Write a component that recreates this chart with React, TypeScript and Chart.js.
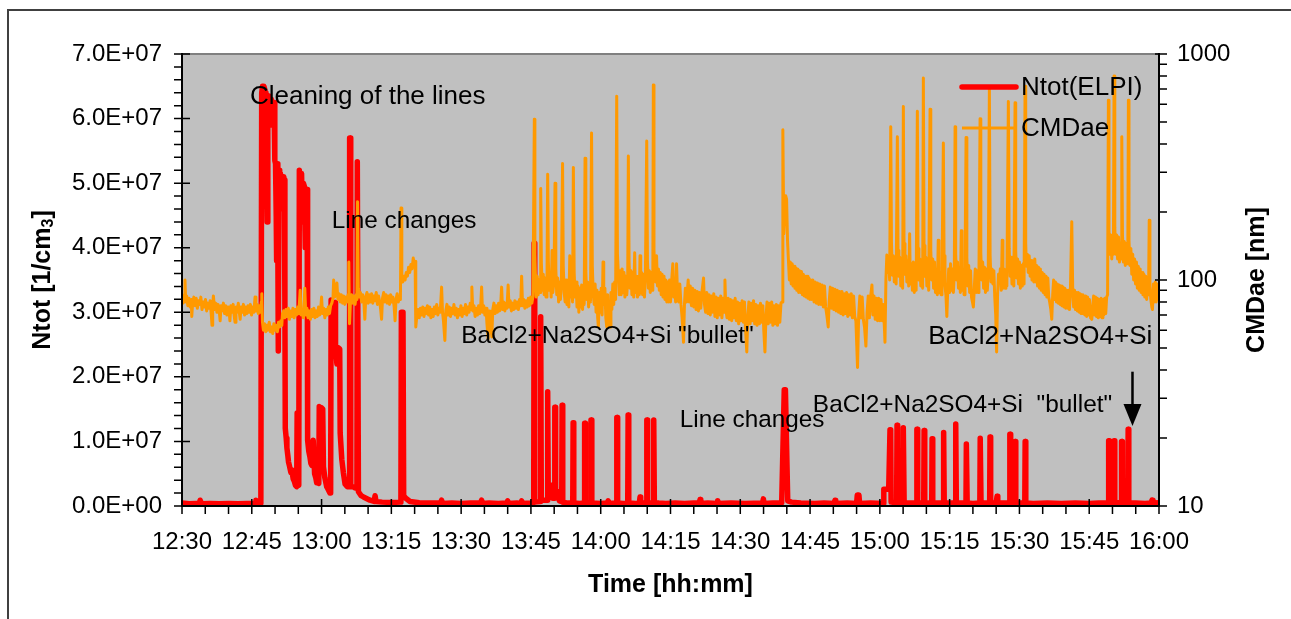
import { useEffect, useRef } from 'react';
import { Chart, registerables } from 'chart.js';

Chart.register(...registerables);

const FONT = '"Liberation Sans", Arial, Helvetica, sans-serif';

// Time axis: minutes after 12:30
const timeTickValues = [0, 15, 30, 45, 60, 75, 90, 105, 120, 135, 150, 165, 180, 195, 210];
const timeLabels = ['12:30', '12:45', '13:00', '13:15', '13:30', '13:45', '14:00', '14:15', '14:30', '14:45', '15:00', '15:15', '15:30', '15:45', '16:00'];

const ntotTickValues = [0, 1e7, 2e7, 3e7, 4e7, 5e7, 6e7, 7e7];
const ntotTickLabels = ['0.0E+00', '1.0E+07', '2.0E+07', '3.0E+07', '4.0E+07', '5.0E+07', '6.0E+07', '7.0E+07'];

const cmdTickValues = [10, 100, 1000];
const cmdTickLabels = ['10', '100', '1000'];
const cmdMinorTicks = [20, 30, 40, 50, 60, 70, 80, 90, 200, 300, 400, 500, 600, 700, 800, 900];

const xTitle = 'Time [hh:mm]';
const yLeftTitle = ['Ntot [1/cm', '3', ']'];
const yRightTitle = 'CMDae [nm]';

// Ntot(ELPI) total number concentration, [minute, 1/cm3]
const ntotSeries: [number, number][] = [
  [0, 0.45e6], [1.5, 0.35e6], [3.0, 0.4e6], [3.7, 0.4e6], [3.9, 0.9e6], [4.2, 0.35e6], [6.0, 0.4e6], [8.0, 0.35e6],
  [10.0, 0.4e6], [12.0, 0.35e6], [14.0, 0.4e6], [15.7, 0.4e6], [15.9, 0.9e6], [16.2, 0.35e6], [16.95, 0.4e6],
  [17.13, 64e6], [17.3, 65e6], [17.45, 58e6], [17.6, 65e6], [17.8, 64.5e6], [17.95, 60e6], [18.05, 64e6], [18.2, 50e6],
  [18.3, 44e6], [18.45, 58e6], [18.55, 63.5e6], [18.7, 61e6], [18.8, 63e6], [19.0, 59e6], [19.2, 63e6], [19.4, 60e6],
  [19.6, 62.5e6], [19.78, 62.5e6], [19.95, 53.5e6], [20.1, 53e6], [20.25, 45e6], [20.34, 38e6], [20.5, 53e6], [20.6, 40e6],
  [20.7, 24e6], [20.85, 52e6], [21.0, 46e6], [21.15, 51.5e6], [21.35, 48e6], [21.5, 51e6], [21.7, 47e6], [21.85, 51e6],
  [22.0, 50.5e6], [22.12, 30e6], [22.2, 12e6], [22.4, 10.5e6], [22.55, 9e6], [22.75, 7.8e6], [22.9, 6.8e6], [23.1, 6.2e6],
  [23.4, 5.2e6], [23.6, 5.6e6], [23.9, 4.2e6], [24.15, 3.8e6], [24.4, 3.2e6], [24.65, 3e6], [24.75, 14.4e6], [24.9, 3.5e6],
  [25.1, 3.2e6], [25.22, 52e6], [25.5, 49e6], [25.7, 51.5e6], [25.9, 44e6], [26.1, 50e6], [26.3, 49.5e6], [26.5, 40e6],
  [26.7, 49e6], [26.9, 49e6], [27.0, 10.2e6], [27.25, 8.5e6], [27.5, 7.6e6], [27.7, 6.6e6], [27.9, 6.3e6], [28.2, 10.2e6],
  [28.5, 5e6], [28.75, 4.4e6], [28.95, 3.6e6], [29.2, 3.8e6], [29.4, 3.5e6], [29.5, 15.4e6], [29.8, 13e6], [30.0, 15.2e6],
  [30.25, 15e6], [30.4, 6.1e6], [30.7, 4.4e6], [31.1, 3e6], [31.4, 2.6e6], [31.8, 2e6], [31.95, 2e6], [32.05, 31.9e6],
  [32.4, 29e6], [32.6, 31.5e6], [32.9, 31.5e6], [33.0, 24.7e6], [33.3, 22e6], [33.6, 24.5e6], [33.9, 24.3e6], [34.0, 11.3e6],
  [34.35, 7.2e6], [34.7, 5.1e6], [35.05, 3.4e6], [35.5, 3e6], [35.95, 3e6], [36.03, 57e6], [36.18, 57e6], [36.27, 3e6],
  [36.8, 3e6], [37.2, 2.8e6], [37.6, 2.8e6], [37.68, 53.3e6], [37.83, 53.3e6], [37.92, 2.2e6], [38.5, 1.6e6], [39.0, 1.4e6],
  [40.4, 0.9e6], [41.3, 0.7e6], [41.5, 1.6e6], [41.7, 0.7e6], [43.0, 0.6e6], [45.0, 0.55e6], [47.05, 0.6e6], [47.15, 30e6],
  [47.5, 30e6], [47.65, 1.6e6], [48.1, 1.2e6], [49.0, 0.7e6], [51.0, 0.5e6], [53.0, 0.45e6], [55.6, 0.45e6], [55.8, 0.9e6],
  [56.0, 0.4e6], [58.0, 0.45e6], [60.0, 0.4e6], [62.0, 0.45e6], [64.2, 0.45e6], [64.4, 0.9e6], [64.6, 0.4e6], [66.0, 0.45e6],
  [68.0, 0.4e6], [69.8, 0.45e6], [70.0, 0.8e6], [70.2, 0.4e6], [72.0, 0.45e6], [72.8, 0.4e6], [73.0, 0.8e6], [73.2, 0.4e6],
  [75.0, 0.45e6],
  [75.6, 0.5e6], [75.68, 40.7e6], [75.78, 40.7e6], [75.86, 0.6e6],
  [76.97, 0.7e6], [77.05, 29.3e6], [77.15, 29.3e6], [77.23, 0.9e6],
  [78.47, 0.9e6], [78.55, 17.7e6], [78.65, 17.7e6], [78.73, 1.2e6],
  [79.0, 1.4e6], [79.15, 3.2e6], [79.5, 3.2e6], [79.7, 1.2e6],
  [80.05, 1.2e6], [80.13, 15.3e6], [80.23, 15.3e6], [80.31, 1.4e6],
  [80.8, 1.3e6], [80.9, 2.2e6], [81.1, 0.8e6],
  [81.62, 0.7e6], [81.7, 15.6e6], [81.8, 15.6e6], [81.88, 0.6e6],
  [83.0, 0.45e6],
  [83.99, 0.45e6], [84.07, 12.9e6], [84.17, 12.9e6], [84.25, 0.45e6],
  [85.5, 0.4e6],
  [86.46, 0.45e6], [86.54, 12.8e6], [86.64, 12.8e6], [86.72, 0.45e6],
  [87.83, 0.45e6], [87.91, 13.3e6], [88.01, 13.3e6], [88.09, 0.45e6],
  [90.0, 0.4e6], [91.4, 0.45e6], [91.6, 0.8e6], [91.8, 0.4e6],
  [93.38, 0.45e6], [93.46, 13.7e6], [93.56, 13.7e6], [93.64, 0.45e6],
  [94.8, 0.4e6],
  [95.81, 0.45e6], [95.89, 14.1e6], [95.99, 14.1e6], [96.07, 0.45e6],
  [97.5, 0.4e6], [98.3, 0.45e6], [98.45, 1.4e6], [98.6, 0.45e6],
  [99.83, 0.45e6], [99.91, 13.3e6], [100.01, 13.3e6], [100.09, 0.45e6],
  [101.27, 0.45e6], [101.35, 13.3e6], [101.45, 13.3e6], [101.53, 0.5e6],
  [102.5, 0.45e6], [104.0, 0.4e6], [106.0, 0.45e6], [108.0, 0.4e6], [110.0, 0.45e6], [111.2, 0.45e6], [111.35, 1.0e6],
  [111.5, 0.4e6], [113.0, 0.45e6], [115.0, 0.4e6], [115.15, 0.8e6], [115.3, 0.4e6], [118.0, 0.45e6], [121.0, 0.4e6],
  [124.8, 0.45e6], [124.96, 1.1e6], [125.1, 0.4e6], [127.0, 0.45e6], [128.9, 0.5e6], [129.45, 18e6], [129.7, 18e6],
  [130.2, 0.8e6], [131.0, 0.6e6], [133.0, 0.45e6], [136.0, 0.4e6], [138.0, 0.45e6], [140.2, 0.4e6], [140.37, 0.9e6],
  [140.5, 0.4e6], [143.0, 0.45e6], [145.0, 0.4e6], [145.15, 1.7e6], [145.5, 1.7e6], [145.65, 0.4e6], [148.0, 0.45e6],
  [150.75, 0.4e6], [150.85, 2.6e6], [151.9, 2.6e6],
  [152.18, 11.8e6], [152.33, 11.8e6], [152.42, 0.6e6],
  [153.61, 0.5e6], [153.69, 12.5e6], [153.79, 12.5e6], [153.87, 0.5e6],
  [154.96, 0.5e6], [155.04, 12.1e6], [155.14, 12.1e6], [155.22, 0.5e6],
  [156.5, 0.45e6],
  [157.88, 0.45e6], [157.96, 11.9e6], [158.06, 11.9e6], [158.14, 0.45e6],
  [159.43, 0.45e6], [159.51, 11.7e6], [159.61, 11.7e6], [159.69, 0.45e6],
  [161.15, 0.45e6], [161.23, 10.4e6], [161.33, 10.4e6], [161.41, 0.45e6],
  [163.58, 0.45e6], [163.66, 11.4e6], [163.76, 11.4e6], [163.84, 0.45e6],
  [166.18, 0.45e6], [166.26, 12.7e6], [166.36, 12.7e6], [166.44, 0.45e6],
  [168.51, 0.45e6], [168.59, 9.6e6], [168.69, 9.6e6], [168.77, 0.45e6],
  [170.0, 0.4e6],
  [171.49, 0.45e6], [171.57, 10.5e6], [171.67, 10.5e6], [171.75, 0.45e6],
  [173.6, 0.45e6], [173.68, 10.7e6], [173.78, 10.7e6], [173.86, 0.45e6],
  [175.0, 0.45e6], [175.19, 1.5e6], [175.35, 0.45e6],
  [177.86, 0.45e6], [177.94, 11.1e6], [178.04, 11.1e6], [178.12, 0.45e6],
  [179.0, 0.45e6], [179.08, 10.0e6], [179.18, 10.0e6], [179.26, 0.45e6],
  [181.15, 0.45e6], [181.23, 10.0e6], [181.33, 10.0e6], [181.41, 0.45e6],
  [183.0, 0.4e6], [186.0, 0.45e6], [189.0, 0.4e6], [192.0, 0.45e6], [195.0, 0.4e6], [197.0, 0.45e6], [199.0, 0.45e6],
  [199.1, 0.45e6], [199.18, 10.1e6], [199.28, 10.1e6], [199.36, 0.5e6],
  [200.28, 0.5e6], [200.36, 10.1e6], [200.46, 10.1e6], [200.54, 0.5e6],
  [201.87, 0.5e6], [201.95, 10.0e6], [202.05, 10.0e6], [202.13, 0.5e6],
  [203.29, 0.5e6], [203.37, 11.9e6], [203.47, 11.9e6], [203.55, 0.5e6],
  [205.0, 0.45e6], [207.0, 0.4e6], [208.3, 0.45e6], [208.5, 0.9e6], [208.7, 0.45e6], [210.0, 0.5e6],
];

// CMDae count median aerodynamic diameter, [minute, nm]
const cmdSeries: [number, number][] = [
  [0, 84], [0.25, 79], [0.5, 86], [0.64, 100], [0.8, 80], [1.0, 85], [1.25, 77], [1.5, 83], [1.75, 76], [2.0, 82],
  [2.1, 69], [2.3, 80], [2.55, 84], [2.8, 77], [3.05, 83], [3.3, 75], [3.55, 81], [3.8, 78], [4.05, 84], [4.3, 74],
  [4.55, 80], [4.8, 76], [5.05, 82], [5.3, 73], [5.55, 79], [5.8, 75], [6.05, 81], [6.3, 70], [6.45, 63], [6.6, 78],
  [6.75, 85], [7.0, 74], [7.25, 79], [7.5, 72], [7.75, 78], [8.0, 73], [8.2, 66], [8.4, 77], [8.65, 73], [8.9, 79],
  [9.15, 71], [9.4, 77], [9.65, 70], [9.9, 76], [10.15, 72], [10.3, 66], [10.5, 77], [10.75, 72], [11.0, 78], [11.2, 70],
  [11.4, 65], [11.6, 76], [11.85, 72], [12.1, 79], [12.35, 71], [12.5, 67], [12.7, 76], [12.95, 72], [13.2, 78], [13.45, 70],
  [13.7, 76], [13.95, 71], [14.2, 77], [14.45, 72], [14.7, 78], [14.95, 70], [15.2, 76], [15.45, 72], [15.7, 84], [15.9, 73],
  [16.15, 78], [16.4, 71], [16.65, 77], [16.85, 72], [17.05, 80], [17.15, 87], [17.3, 65],
  [17.5, 60], [17.75, 64], [18.0, 59], [18.25, 63], [18.5, 60], [18.75, 65], [19.0, 59], [19.25, 62], [19.5, 58], [19.75, 64],
  [20.0, 60], [20.25, 63], [20.5, 59], [20.75, 65], [21.0, 62], [21.25, 66], [21.45, 63], [21.6, 71],
  [21.85, 73], [22.1, 68], [22.35, 74], [22.6, 69], [22.85, 75], [23.1, 67], [23.35, 73], [23.6, 69], [23.85, 75], [24.1, 68],
  [24.35, 74], [24.6, 70], [24.85, 76], [25.1, 71], [25.4, 90], [25.6, 70], [25.85, 74], [26.1, 68], [26.4, 92], [26.6, 70],
  [26.85, 75], [27.1, 68], [27.35, 73], [27.6, 67], [27.85, 74], [28.1, 69], [28.35, 75], [28.6, 68], [28.85, 73], [29.1, 69],
  [29.35, 76], [29.6, 70], [29.8, 74], [30.0, 84], [30.2, 71], [30.45, 75], [30.7, 68], [30.95, 74], [31.2, 70], [31.45, 76],
  [31.7, 71], [31.95, 77], [32.2, 79], [32.45, 83], [32.6, 100], [32.8, 84], [33.05, 88], [33.3, 97], [33.5, 82], [33.75, 87],
  [34.0, 80], [34.25, 86], [34.5, 79], [34.75, 85], [35.0, 78], [35.25, 84], [35.5, 80], [35.7, 86], [35.85, 120], [36.0, 64],
  [36.2, 80], [36.45, 86], [36.7, 79], [36.95, 85], [37.2, 78], [37.45, 86], [37.6, 82], [37.73, 222], [37.9, 92], [38.1, 84],
  [38.35, 88], [38.6, 80], [38.85, 86], [39.1, 79], [39.3, 67], [39.5, 84], [39.75, 88], [40.0, 79], [40.25, 86], [40.5, 80],
  [40.75, 87], [41.0, 79], [41.25, 85], [41.5, 81], [41.75, 88], [42.0, 78], [42.25, 85], [42.5, 80], [42.7, 74], [42.9, 67],
  [43.1, 83], [43.35, 88], [43.6, 80], [43.85, 86], [44.1, 79], [44.35, 85], [44.6, 78], [44.85, 86], [45.1, 80], [45.35, 84],
  [45.6, 76], [45.8, 66], [46.0, 82], [46.25, 87], [46.5, 80], [46.75, 85], [46.95, 82], [47.08, 208], [47.25, 104], [47.45, 98],
  [47.7, 104], [47.95, 100], [48.2, 108], [48.45, 104], [48.7, 114], [48.95, 108], [49.2, 117], [49.45, 112], [49.7, 125],
  [49.9, 118], [50.1, 121], [50.25, 62],
  [50.5, 70], [50.75, 74], [51.0, 68], [51.25, 75], [51.5, 70], [51.75, 76], [52.0, 69], [52.25, 75], [52.5, 71], [52.75, 77],
  [53.0, 70], [53.25, 76], [53.5, 68], [53.75, 74], [54.0, 69], [54.25, 76], [54.5, 71], [54.75, 78], [55.0, 70], [55.25, 75],
  [55.5, 72], [55.8, 93], [56.0, 72], [56.2, 66], [56.5, 54], [56.7, 73], [56.95, 78], [57.2, 70], [57.45, 76], [57.7, 69],
  [57.95, 75], [58.2, 71], [58.45, 78], [58.7, 70], [58.95, 75], [59.2, 68], [59.45, 74], [59.7, 70], [59.95, 77], [60.2, 69],
  [60.45, 75], [60.7, 71], [60.95, 78], [61.2, 70], [61.45, 76], [61.7, 72], [61.95, 79], [62.15, 74], [62.3, 93], [62.5, 73],
  [62.75, 77], [63.0, 69], [63.25, 75], [63.5, 70], [63.75, 77], [64.0, 71], [64.2, 76], [64.4, 93], [64.6, 72], [64.85, 77],
  [65.1, 70], [65.35, 75], [65.55, 64], [65.8, 55], [66.0, 73], [66.2, 68], [66.4, 62], [66.6, 56], [66.8, 74], [67.05, 79],
  [67.3, 71], [67.55, 77], [67.8, 72], [68.05, 79], [68.3, 73], [68.5, 78], [68.7, 93], [68.9, 74], [69.15, 80], [69.4, 73],
  [69.65, 79], [69.85, 75], [70.1, 95], [70.3, 76], [70.55, 81], [70.8, 73], [71.05, 79], [71.3, 74], [71.55, 81], [71.8, 75],
  [72.05, 80], [72.3, 74], [72.55, 82], [72.8, 77], [73.0, 104], [73.2, 77], [73.45, 82], [73.7, 75], [73.95, 81], [74.2, 76],
  [74.45, 83], [74.7, 77], [74.95, 84], [75.2, 79], [75.45, 85],
  [75.73, 515], [75.85, 130], [76.0, 100], [76.15, 84], [76.35, 104], [76.55, 86], [76.75, 100], [76.95, 88], [77.1, 254],
  [77.25, 118], [77.45, 90], [77.65, 106], [77.85, 86], [78.05, 102], [78.25, 84], [78.45, 98], [78.6, 294], [78.75, 120],
  [78.95, 90], [79.15, 104], [79.35, 84], [79.55, 135], [79.7, 88], [79.95, 98], [80.18, 268], [80.35, 112], [80.55, 86],
  [80.75, 102], [80.95, 80], [81.15, 98], [81.35, 82], [81.55, 96], [81.8, 328], [81.95, 115], [82.15, 88], [82.35, 80],
  [82.55, 100], [82.75, 78], [82.95, 96], [83.15, 76], [83.35, 128], [83.5, 84], [83.75, 94], [83.95, 80], [84.12, 315],
  [84.3, 108], [84.5, 84], [84.7, 98], [84.9, 76], [85.1, 94], [85.3, 72], [85.5, 92], [85.7, 76], [85.9, 95], [86.1, 74],
  [86.3, 92], [86.45, 78], [86.63, 346], [86.8, 110], [87.0, 82], [87.2, 98], [87.4, 76], [87.6, 94], [87.8, 80], [88.03, 447],
  [88.2, 115], [88.4, 86], [88.6, 78], [88.8, 96], [89.0, 72], [89.2, 90], [89.35, 68], [89.5, 62], [89.7, 88], [89.9, 72],
  [90.1, 92], [90.3, 70], [90.5, 120], [90.65, 78], [90.9, 92], [91.1, 68], [91.3, 62], [91.5, 86], [91.7, 70], [91.85, 64],
  [92.0, 62], [92.2, 88], [92.4, 74], [92.6, 96], [92.8, 78], [93.0, 98], [93.2, 82], [93.44, 651], [93.6, 130], [93.8, 104],
  [94.0, 86], [94.2, 110], [94.4, 86], [94.6, 112], [94.8, 88], [95.0, 108], [95.2, 84], [95.4, 104], [95.6, 86], [95.8, 100],
  [95.94, 354], [96.1, 120], [96.3, 92], [96.5, 110], [96.7, 86], [96.9, 108], [97.1, 84], [97.3, 132], [97.45, 88], [97.7, 104],
  [97.9, 84], [98.1, 104], [98.3, 86], [98.45, 128], [98.6, 88], [98.8, 108], [99.0, 86], [99.2, 106], [99.4, 84], [99.6, 102],
  [99.89, 412], [100.05, 122], [100.25, 92], [100.45, 110], [100.65, 88], [100.85, 108], [101.05, 90], [101.2, 104],
  [101.31, 730], [101.45, 135], [101.6, 112], [101.8, 98], [102.0, 128], [102.2, 94], [102.4, 112], [102.6, 90], [102.8, 108],
  [103.0, 86], [103.2, 106], [103.4, 84], [103.6, 104], [103.8, 82], [104.0, 100], [104.2, 80], [104.4, 98], [104.6, 80],
  [104.8, 100], [105.0, 80], [105.2, 96], [105.5, 118], [105.7, 84], [105.9, 96], [106.1, 80],
  [106.3, 118], [106.5, 88], [106.75, 80], [107.0, 96], [107.25, 78], [107.5, 68], [107.8, 53], [108.0, 78], [108.2, 92],
  [108.45, 80], [108.8, 100], [109.0, 80], [109.25, 94], [109.5, 77], [109.75, 92], [110.0, 76], [110.25, 90], [110.5, 74],
  [110.75, 89], [111.0, 73], [111.25, 88], [111.5, 75], [111.8, 90], [112.1, 102], [112.3, 78], [112.55, 72], [112.8, 88],
  [113.05, 71], [113.3, 86], [113.55, 70], [113.8, 85], [114.05, 72], [114.3, 87], [114.55, 69], [114.8, 84], [115.05, 68],
  [115.3, 83], [115.55, 70], [115.8, 85], [116.05, 68], [116.3, 83], [116.5, 72], [116.7, 100], [116.9, 74], [117.15, 68],
  [117.4, 83], [117.65, 67], [117.9, 82], [118.15, 66], [118.4, 81], [118.65, 68], [118.9, 83], [119.15, 66], [119.4, 80],
  [119.65, 64], [119.9, 79], [120.15, 66], [120.4, 81], [120.65, 65], [120.9, 80], [121.1, 62], [121.4, 48], [121.6, 68],
  [121.85, 80], [122.1, 64], [122.35, 79], [122.6, 66], [122.85, 81], [123.1, 64], [123.35, 78], [123.6, 63], [123.85, 77],
  [124.1, 64], [124.35, 79], [124.6, 65], [124.85, 77], [125.05, 60], [125.3, 48], [125.5, 67], [125.75, 80], [126.0, 64],
  [126.25, 79], [126.5, 65], [126.75, 80], [127.0, 63], [127.25, 77], [127.5, 64], [127.75, 78], [128.0, 63], [128.25, 77],
  [128.5, 65], [128.75, 79], [129.0, 80],
  [129.15, 462], [129.35, 160], [129.55, 200], [129.75, 236], [129.95, 228], [130.15, 150], [130.35, 122], [130.55, 100],
  [130.75, 120], [130.95, 96], [131.15, 118], [131.35, 94], [131.55, 115], [131.75, 92], [131.95, 113], [132.15, 90],
  [132.35, 112], [132.55, 88], [132.75, 110], [132.95, 88], [133.15, 109], [133.35, 86], [133.55, 106], [133.75, 85],
  [133.95, 104], [134.15, 84], [134.35, 104], [134.55, 83], [134.75, 102], [134.95, 82], [135.15, 100],
  [135.35, 82], [135.6, 100], [135.85, 80], [136.1, 98], [136.35, 79], [136.6, 97], [136.85, 78], [137.1, 96], [137.35, 78],
  [137.6, 95], [137.85, 76], [138.1, 94], [138.35, 76], [138.6, 70], [138.9, 62], [139.1, 80], [139.35, 93], [139.6, 75],
  [139.85, 92], [140.1, 74], [140.35, 91], [140.6, 73], [140.85, 90], [141.1, 72], [141.35, 89], [141.6, 71], [141.85, 89],
  [142.1, 70], [142.35, 87], [142.6, 71], [142.85, 88], [143.1, 69], [143.35, 86], [143.6, 70], [143.85, 87], [144.1, 68],
  [144.35, 85], [144.6, 69], [144.85, 66], [145.2, 41], [145.45, 70], [145.7, 85], [145.95, 68], [146.2, 84], [146.45, 67],
  [146.7, 62], [147.0, 51], [147.25, 72], [147.5, 85], [147.75, 68], [148.0, 84], [148.3, 95], [148.5, 70], [148.75, 85],
  [149.0, 67], [149.25, 83], [149.5, 66], [149.75, 83], [150.0, 66], [150.25, 82], [150.5, 66], [150.75, 78], [151.0, 60],
  [151.1, 53],
  [151.3, 100], [151.5, 129], [151.7, 108], [151.9, 125], [152.1, 100], [152.34, 476], [152.5, 145], [152.7, 105], [152.9, 128],
  [153.1, 98], [153.3, 120], [153.5, 96], [153.76, 430], [153.9, 135], [154.1, 104], [154.3, 126], [154.5, 94], [154.7, 118],
  [154.9, 92], [155.05, 585], [155.2, 145], [155.4, 106], [155.6, 128], [155.8, 98], [156.0, 122], [156.2, 94], [156.4, 160],
  [156.55, 96], [156.8, 118], [157.0, 90], [157.2, 120], [157.4, 88], [157.6, 112], [157.8, 90], [158.06, 558], [158.2, 138],
  [158.4, 100], [158.6, 124], [158.8, 94], [159.0, 116], [159.2, 92], [159.35, 784], [159.5, 142], [159.7, 104], [159.9, 126],
  [160.1, 94], [160.3, 116], [160.5, 90], [160.79, 570], [160.95, 135], [161.15, 100], [161.35, 124], [161.55, 92],
  [161.75, 120], [161.95, 88], [162.15, 112], [162.35, 86], [162.55, 150], [162.7, 88], [162.95, 108], [163.15, 86],
  [163.35, 104], [163.65, 404], [163.8, 128], [164.0, 94], [164.2, 86], [164.4, 69], [164.6, 92], [164.8, 112], [165.0, 88],
  [165.2, 118], [165.4, 90], [165.6, 112], [165.8, 88], [166.0, 106], [166.17, 476], [166.3, 130], [166.5, 100], [166.7, 120],
  [166.9, 92], [167.1, 114], [167.3, 88], [167.5, 165], [167.65, 90], [167.9, 112], [168.1, 86], [168.3, 106], [168.53, 427],
  [168.7, 125], [168.9, 94], [169.1, 116], [169.3, 88], [169.5, 110], [169.7, 84], [169.9, 80], [170.1, 76], [170.3, 92],
  [170.5, 112], [170.7, 88], [170.9, 110], [171.1, 88], [171.3, 106], [171.54, 517], [171.7, 132], [171.9, 100], [172.1, 120],
  [172.3, 92], [172.5, 114], [172.7, 88], [172.9, 112], [173.1, 90], [173.3, 108], [173.54, 703], [173.7, 128], [173.9, 98],
  [174.1, 112], [174.3, 96], [174.5, 110], [174.7, 84], [174.9, 70], [175.1, 48], [175.3, 86], [175.5, 106], [175.7, 98],
  [175.9, 112], [176.1, 90], [176.3, 150], [176.45, 92], [176.7, 112], [176.9, 92], [177.1, 108], [177.3, 94], [177.62, 616],
  [177.8, 138], [178.0, 104], [178.2, 126], [178.4, 96], [178.6, 116], [178.8, 94], [179.06, 608], [179.2, 135], [179.4, 102],
  [179.6, 124], [179.8, 96], [180.0, 120], [180.2, 92], [180.4, 116], [180.6, 94], [180.8, 118], [181.0, 96], [181.21, 720],
  [181.35, 145], [181.5, 115], [181.7, 130], [181.9, 108], [182.1, 128], [182.3, 104], [182.5, 122], [182.7, 100], [182.9, 120],
  [183.1, 98], [183.3, 124], [183.5, 98], [183.7, 116], [183.9, 94], [184.1, 114], [184.3, 92], [184.5, 112], [184.7, 90],
  [184.9, 108], [185.1, 88], [185.3, 106], [185.5, 86], [185.7, 104], [185.9, 84], [186.1, 102], [186.3, 84], [186.5, 80],
  [186.75, 74], [186.95, 67], [187.15, 86], [187.35, 100], [187.55, 82], [187.75, 98], [187.95, 80], [188.15, 96], [188.35, 79],
  [188.55, 95], [188.75, 78], [188.95, 94], [189.15, 77], [189.35, 93], [189.55, 76], [189.75, 92], [189.95, 75], [190.15, 90],
  [190.35, 75], [190.55, 90], [190.75, 74], [190.95, 88], [191.25, 181], [191.45, 92], [191.65, 76], [191.85, 90], [192.05, 74],
  [192.25, 88], [192.45, 73], [192.65, 88], [192.85, 72], [193.05, 87], [193.25, 71], [193.45, 86], [193.65, 71], [193.85, 85],
  [194.05, 70], [194.25, 85], [194.45, 69], [194.65, 84], [194.85, 70], [195.05, 82], [195.3, 68], [195.55, 67], [195.75, 76],
  [195.95, 85], [196.15, 70], [196.35, 84], [196.55, 69], [196.75, 83], [196.95, 68], [197.15, 82], [197.35, 69], [197.55, 83],
  [197.75, 68], [197.95, 82], [198.15, 70], [198.35, 83], [198.55, 71], [198.75, 84], [198.95, 86],
  [199.12, 624], [199.25, 165], [199.45, 130], [199.65, 158], [199.85, 124], [200.05, 152], [200.2, 130], [200.34, 800],
  [200.5, 170], [200.7, 130], [200.9, 158], [201.1, 124], [201.3, 155], [201.5, 120], [201.7, 146], [201.85, 124], [202.0, 430],
  [202.15, 158], [202.35, 120], [202.55, 148], [202.75, 116], [202.95, 145], [203.15, 118], [203.3, 138], [203.42, 624],
  [203.55, 150], [203.75, 116], [203.95, 138], [204.15, 106], [204.35, 130], [204.55, 100], [204.75, 124], [204.95, 96],
  [205.15, 120], [205.35, 92], [205.55, 115], [205.75, 90], [205.95, 112], [206.15, 88], [206.35, 108], [206.55, 86],
  [206.75, 106], [206.95, 84], [207.15, 104], [207.35, 82], [207.55, 100], [207.75, 86], [207.9, 184], [208.05, 94], [208.25, 82],
  [208.45, 76], [208.6, 74], [208.8, 96], [209.0, 80], [209.2, 98], [209.4, 80], [209.6, 96], [209.8, 82], [210.0, 92],
];

// Text notes anchored in data units (time in minutes, left-axis level)
const noteTexts = ['Cleaning of the lines', 'Line changes', 'BaCl2+Na2SO4+Si "bullet"', 'Line changes', 'BaCl2+Na2SO4+Si  "bullet"', 'BaCl2+Na2SO4+Si'];
const noteTimes = [14.6, 32.2, 60.0, 107.0, 135.6, 160.4];
const noteLevels = [63.3e6, 44.1e6, 26.3e6, 13.2e6, 15.6e6, 26.2e6];
const noteSizes = [26, 24.3, 24.4, 24.3, 24.4, 26];
const arrowTime = 204.3;
const arrowFrom = 20.8e6;
const arrowTo = 12.4e6;

const legendItems = [
  { label: 'Ntot(ELPI)', color: '#FF0000', width: 5.5 },
  { label: 'CMDae', color: '#FF9900', width: 3 },
];

const decorPlugin = {
  id: 'decor',
  beforeDraw(chart: any) {
    const { ctx, chartArea: a } = chart;
    ctx.save();
    ctx.fillStyle = '#C0C0C0';
    ctx.fillRect(a.left, a.top, a.right - a.left, a.bottom - a.top);
    ctx.restore();
  },
  afterDatasetsDraw(chart: any) {
    const { ctx, chartArea: a, scales } = chart;
    const xs = scales.x;
    const yl = scales.yL;
    const yr = scales.yR;
    ctx.save();

    // plot frame and axis lines
    ctx.lineWidth = 2;
    ctx.strokeStyle = '#808080';
    ctx.beginPath();
    ctx.moveTo(a.left, a.top);
    ctx.lineTo(a.right, a.top);
    ctx.stroke();
    ctx.strokeStyle = '#000';
    ctx.beginPath();
    ctx.moveTo(a.left, a.top - 1);
    ctx.lineTo(a.left, a.bottom + 1);
    ctx.moveTo(a.left - 1, a.bottom);
    ctx.lineTo(a.right + 1, a.bottom);
    ctx.moveTo(a.right, a.top - 1);
    ctx.lineTo(a.right, a.bottom + 1);
    ctx.stroke();

    // tick marks
    ctx.lineWidth = 1.5;
    ctx.beginPath();
    for (let i = 0; i <= 35; i++) {
      const y = yl.getPixelForValue(i * 2e6);
      const major = i % 5 === 0;
      ctx.moveTo(a.left - 8, y);
      ctx.lineTo(major ? a.left + 8 : a.left, y);
    }
    for (let m = 0; m <= 210; m += 5) {
      const x = xs.getPixelForValue(m);
      const major = m % 15 === 0;
      ctx.moveTo(x, major ? a.bottom - 7 : a.bottom);
      ctx.lineTo(x, a.bottom + 8);
    }
    cmdTickValues.forEach((v) => {
      const y = yr.getPixelForValue(v);
      ctx.moveTo(a.right - 4, y);
      ctx.lineTo(a.right + 8, y);
    });
    cmdMinorTicks.forEach((v) => {
      const y = yr.getPixelForValue(v);
      ctx.moveTo(a.right, y);
      ctx.lineTo(a.right + 8, y);
    });
    ctx.stroke();

    // notes
    ctx.fillStyle = '#000';
    ctx.textAlign = 'left';
    ctx.textBaseline = 'middle';
    noteTexts.forEach((t, i) => {
      ctx.font = `${noteSizes[i]}px ${FONT}`;
      ctx.fillText(t, xs.getPixelForValue(noteTimes[i]), yl.getPixelForValue(noteLevels[i]));
    });

    // arrow
    const ax = xs.getPixelForValue(arrowTime);
    const ay0 = yl.getPixelForValue(arrowFrom);
    const ay1 = yl.getPixelForValue(arrowTo);
    ctx.strokeStyle = '#000';
    ctx.lineWidth = 2.5;
    ctx.beginPath();
    ctx.moveTo(ax, ay0);
    ctx.lineTo(ax, ay1 - 18);
    ctx.stroke();
    ctx.beginPath();
    ctx.moveTo(ax - 9, ay1 - 22);
    ctx.lineTo(ax + 9, ay1 - 22);
    ctx.lineTo(ax, ay1);
    ctx.closePath();
    ctx.fill();

    // legend
    legendItems.forEach((it, i) => {
      const y = a.top + 33 + i * 41;
      ctx.strokeStyle = it.color;
      ctx.lineWidth = it.width;
      ctx.lineCap = i === 0 ? 'round' : 'butt';
      ctx.beginPath();
      ctx.moveTo(a.right - 197, y);
      ctx.lineTo(a.right - 143, y);
      ctx.stroke();
      ctx.fillStyle = '#000';
      ctx.font = `26px ${FONT}`;
      ctx.fillText(it.label, a.right - 138, y + 1);
    });

    // axis titles
    ctx.fillStyle = '#000';
    ctx.textAlign = 'center';
    ctx.font = `bold 25px ${FONT}`;
    ctx.fillText(xTitle, (a.left + a.right) / 2, 585);

    const midY = (a.top + a.bottom) / 2;
    ctx.save();
    ctx.translate(43, midY);
    ctx.rotate(-Math.PI / 2);
    ctx.textAlign = 'left';
    ctx.font = `bold 25px ${FONT}`;
    const w0 = ctx.measureText(yLeftTitle[0]).width;
    const w2 = ctx.measureText(yLeftTitle[2]).width;
    ctx.font = `bold 16px ${FONT}`;
    const w1 = ctx.measureText(yLeftTitle[1]).width;
    let tx = -(w0 + w1 + w2) / 2;
    ctx.font = `bold 25px ${FONT}`;
    ctx.fillText(yLeftTitle[0], tx, 0);
    tx += w0;
    ctx.font = `bold 16px ${FONT}`;
    ctx.fillText(yLeftTitle[1], tx, 6);
    tx += w1;
    ctx.font = `bold 25px ${FONT}`;
    ctx.fillText(yLeftTitle[2], tx, 0);
    ctx.restore();

    ctx.save();
    ctx.translate(1257, midY);
    ctx.rotate(-Math.PI / 2);
    ctx.textAlign = 'center';
    ctx.font = `bold 25px ${FONT}`;
    ctx.fillText(yRightTitle, 0, 0);
    ctx.restore();

    ctx.restore();
  },
};

export default function App() {
  const canvasRef = useRef<HTMLCanvasElement>(null);

  useEffect(() => {
    const canvas = canvasRef.current;
    if (!canvas) return;
    const chart = new Chart(canvas, {
      type: 'line',
      data: {
        datasets: [
          {
            label: 'CMDae',
            data: cmdSeries.map(([x, y]) => ({ x, y })),
            yAxisID: 'yR',
            borderColor: '#FF9900',
            borderWidth: 3,
            pointRadius: 0,
            tension: 0,
            borderJoinStyle: 'round',
            order: 0,
          },
          {
            label: 'Ntot(ELPI)',
            data: ntotSeries.map(([x, y]) => ({ x, y })),
            yAxisID: 'yL',
            borderColor: '#FF0000',
            borderWidth: 5.5,
            pointRadius: 0,
            tension: 0,
            borderJoinStyle: 'round',
            borderCapStyle: 'round',
            order: 1,
          },
        ],
      },
      options: {
        animation: false,
        responsive: false,
        events: [],
        layout: { padding: { top: 54, left: 0, right: 0, bottom: 0 } },
        plugins: { legend: { display: false }, tooltip: { enabled: false } },
        scales: {
          x: {
            type: 'linear',
            min: 0,
            max: 210,
            grid: { display: false, drawTicks: false },
            border: { display: false },
            afterBuildTicks: (s: any) => {
              s.ticks = timeTickValues.map((value) => ({ value }));
            },
            afterFit: (s: any) => {
              s.height = 113;
            },
            ticks: {
              autoSkip: false,
              maxRotation: 0,
              padding: 22,
              color: '#000',
              font: { family: FONT, size: 24 },
              callback: (_v: any, i: number) => timeLabels[i],
            },
          },
          yL: {
            type: 'linear',
            position: 'left',
            min: 0,
            max: 7e7,
            grid: { display: false, drawTicks: false },
            border: { display: false },
            afterBuildTicks: (s: any) => {
              s.ticks = ntotTickValues.map((value) => ({ value }));
            },
            afterFit: (s: any) => {
              s.width = 182;
            },
            ticks: {
              autoSkip: false,
              padding: 20,
              color: '#000',
              font: { family: FONT, size: 24 },
              callback: (_v: any, i: number) => ntotTickLabels[i],
            },
          },
          yR: {
            type: 'logarithmic',
            position: 'right',
            min: 10,
            max: 1000,
            grid: { display: false, drawTicks: false },
            border: { display: false },
            afterBuildTicks: (s: any) => {
              s.ticks = cmdTickValues.map((value) => ({ value }));
            },
            afterFit: (s: any) => {
              s.width = 132;
            },
            ticks: {
              autoSkip: false,
              padding: 18,
              color: '#000',
              font: { family: FONT, size: 24 },
              callback: (_v: any, i: number) => cmdTickLabels[i],
            },
          },
        },
      },
      plugins: [decorPlugin],
    } as any);
    return () => chart.destroy();
  }, []);

  return (
    <div style={{ position: 'fixed', left: 0, top: 0, width: 1291, height: 619, background: '#fff' }}>
      <div
        style={{
          position: 'absolute',
          left: 7,
          top: 9,
          width: 1284,
          height: 610,
          borderTop: '2px solid #404040',
          borderLeft: '2px solid #404040',
          boxSizing: 'border-box',
        }}
      />
      <canvas ref={canvasRef} width={1291} height={619} style={{ position: 'absolute', left: 0, top: 0, display: 'block' }} />
    </div>
  );
}
